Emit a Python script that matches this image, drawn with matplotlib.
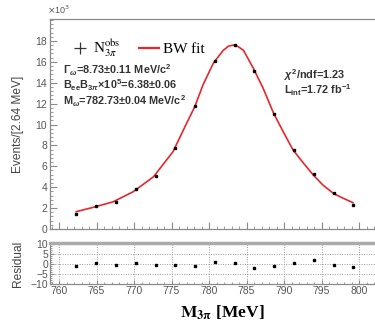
#!/usr/bin/env python3
"""omega -> 3pi invariant mass with BW fit and residual panel."""

import matplotlib
matplotlib.use("Agg")
import matplotlib.pyplot as plt
from matplotlib.lines import Line2D
from matplotlib.ticker import MultipleLocator
from matplotlib.font_manager import FontProperties

# bin centres [MeV] and observed events [x1e3]
mass = [762.3, 764.9, 767.6, 770.2, 772.9, 775.5, 778.1, 780.8,
        783.4, 786.0, 788.7, 791.3, 794.0, 796.6, 799.2]
events = [1.45, 2.2, 2.55, 3.8, 5.1, 7.75, 11.8, 16.1,
          17.6, 15.1, 11.0, 7.6, 5.27, 3.4, 2.33]
residual = [-1.0, 0.5, -0.5, 0.5, -0.5, -0.7, -0.8, 1.0,
            0.3, -1.8, -1.0, 0.7, 1.8, -0.3, -1.3]

# fit curve
fit_mass = [762.3, 764.6, 767.2, 769.9, 772.6, 775.2, 776.6, 777.0, 778.1,
            779.2, 780.6, 781.9, 782.6, 783.2, 783.9, 784.6, 785.9, 787.2,
            788.6, 789.9, 791.2, 792.6, 793.9, 795.2, 796.6, 797.9, 799.2]
fit_events = [1.66, 2.08, 2.6, 3.57, 5.0, 7.4, 9.5, 10.1, 11.7,
              13.8, 15.9, 17.1, 17.5, 17.6, 17.45, 17.1, 15.4, 13.5,
              11.1, 9.3, 7.57, 6.3, 5.17, 4.2, 3.4, 2.94, 2.52]

stats_left = [
    r"$\Gamma_{\omega}$=8.73$\pm$0.11 MeV/c$^{2}$",
    r"B$_{\mathrm{ee}}$B$_{3\pi}$$\times$10$^{5}$=6.38$\pm$0.06",
    r"M$_{\omega}$=782.73$\pm$0.04 MeV/c$^{2}$",
]
stats_right = [r"$\chi^{2}$/ndf=1.23", r"L$_{\mathrm{int}}$=1.72 fb$^{-1}$"]

plt.rcParams["font.family"] = ["Liberation Sans", "DejaVu Sans"]
plt.rcParams["mathtext.rm"] = "Liberation Sans:bold"
plt.rcParams["mathtext.it"] = "Liberation Sans:italic:bold"
plt.rcParams["mathtext.bf"] = "Liberation Sans:bold"

W, H = 375, 330
fig = plt.figure(figsize=(W / 100, H / 100), dpi=100)
ax = fig.add_axes([50 / W, 101 / H, 327 / W, 210 / H])
axr = fig.add_axes([50 / W, 46 / H, 327 / W, 41 / H])

xlim = (758.8, 802.4)
spine_col = "#8a8a8a"
tick_col = "#555555"

# main panel
ax.plot(fit_mass, fit_events, color="#e8262a", lw=1.2, zorder=2)
ax.plot(mass, events, "s", color="black", ms=1.8, zorder=3)
ax.set_xlim(*xlim)
ax.set_ylim(0, 20.1)
ax.set_yticks(range(0, 19, 2))
ax.yaxis.set_minor_locator(MultipleLocator(0.4))
ax.xaxis.set_major_locator(MultipleLocator(5))
ax.xaxis.set_minor_locator(MultipleLocator(1))
ax.tick_params(axis="x", which="both", labelbottom=False)
ax.tick_params(which="both", direction="in", color=spine_col, labelcolor=tick_col,
               labelsize=7.5, pad=2)
ax.tick_params(which="major", length=5)
ax.tick_params(which="minor", length=2.5)
for s in ax.spines.values():
    s.set_color(spine_col)
    s.set_linewidth(0.9)
ax.set_ylabel("Events/[2.64 MeV]", fontsize=8.6, color="#444444")
ax.text(-0.01, 1.015, r"$\times$10$^{3}$", transform=ax.transAxes, fontsize=6.5,
        color=tick_col, ha="left", va="bottom", math_fontfamily="dejavusans")

serif = FontProperties(family=["Liberation Serif", "DejaVu Serif"], size=11,
                       math_fontfamily="stix")
handles = [Line2D([], [], marker="+", ms=8, mew=0.9, color="#333333", lw=0),
           Line2D([], [], color="#e8262a", lw=1.6)]
ax.legend(handles, [r"N$_{3\pi}^{\rm obs}$", "BW fit"], prop=serif, ncol=2,
          loc="center left", bbox_to_anchor=(0.06, 0.86), frameon=False,
          handlelength=1.3, handletextpad=0.25, columnspacing=1.2,
          borderpad=0, borderaxespad=0)

# text positions in display pixels, measured from the bottom of the figure
for i, line in enumerate(stats_left):
    ax.text(63, 260 - i * 15.5, line, transform=None, fontsize=7.8,
            fontweight="bold", color="#333333", va="center",
            math_fontfamily="custom")
for i, line in enumerate(stats_right):
    ax.text(284, 255 - i * 15, line, transform=None, fontsize=7.8,
            fontweight="bold", color="#333333", va="center",
            math_fontfamily="custom")

# residual panel
axr.plot(mass, residual, "s", color="black", ms=1.6)
axr.set_xlim(*xlim)
axr.set_ylim(-10, 10.5)
axr.set_yticks([-10, -5, 0, 5, 10])
axr.set_yticklabels(["\u221210", "\u22125", "0", "5", "10"])
axr.yaxis.set_minor_locator(MultipleLocator(1))
axr.xaxis.set_major_locator(MultipleLocator(5))
axr.xaxis.set_minor_locator(MultipleLocator(1))
axr.grid(True, which="major", color="#9a9a9a", ls=(0, (1, 1.5)), lw=0.7)
axr.tick_params(which="both", direction="in", color=spine_col, labelcolor=tick_col,
                labelsize=7.5, pad=1.5)
axr.tick_params(which="major", length=3)
axr.tick_params(which="minor", length=1.5)
for s in axr.spines.values():
    s.set_color(spine_col)
    s.set_linewidth(0.9)
axr.spines["top"].set_linewidth(2.5)
axr.spines["top"].set_color("#aaaaaa")
axr.set_ylabel("Residual", fontsize=8.6, color="#444444")

fig.text(222 / W, 1 - 313 / H, r"$\mathbf{M_{3\pi}}$ [MeV]", ha="center",
         va="center", fontsize=12.5, fontweight="bold",
         family=["Liberation Serif", "DejaVu Serif"], math_fontfamily="stix")

# line up the two y-labels
ax.yaxis.set_label_coords(-0.08, 0.5)
axr.yaxis.set_label_coords(-0.08, 0.5)

fig.savefig("out.png", dpi=100)
